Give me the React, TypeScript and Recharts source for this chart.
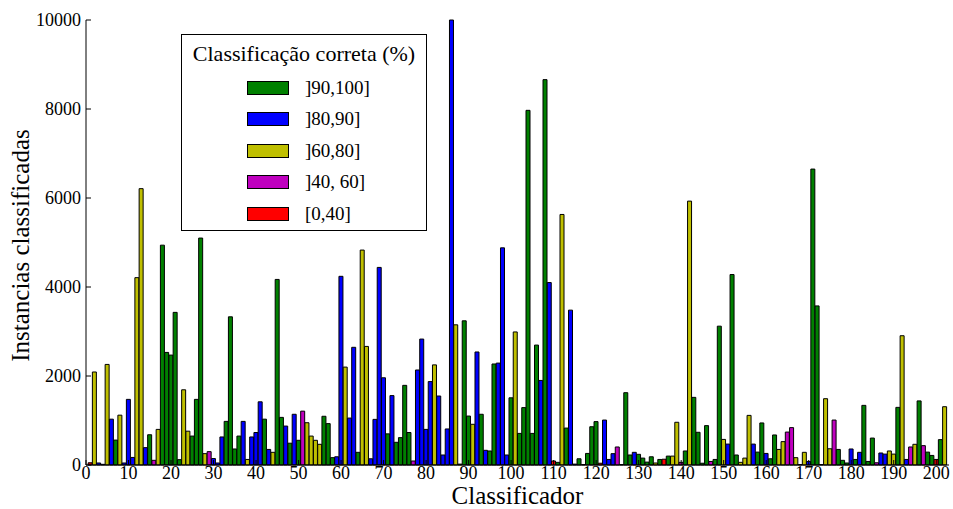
import { BarChart, Bar, XAxis, YAxis, Cell, Legend } from 'recharts';

// instances classified per classifier (classifier 1..202)
const INSTANCE_COUNTS = [
  50, 2090, 45, 15, 2260, 1030, 560, 1120, 45, 1475,
  170, 4210, 6210, 390, 680, 105, 800, 4940, 2530, 2470,
  3430, 120, 1690, 760, 650, 1475, 5100, 255, 300, 145,
  45, 630, 980, 3330, 360, 650, 980, 125, 630, 730,
  1420, 1030, 350, 285, 4170, 1070, 875, 490, 1140, 555,
  1210, 950, 650, 555, 465, 1095, 930, 165, 185, 4240,
  2200, 1055, 2645, 285, 4830, 2665, 140, 1025, 4440, 1960,
  700, 1560, 510, 615, 1790, 730, 90, 2135, 2830, 800,
  1875, 2250, 1550, 225, 810, 10000, 3150, 20, 3240, 1100,
  915, 2540, 1140, 330, 315, 2270, 2290, 4880, 225, 1510,
  2990, 710, 1290, 7970, 710, 2695, 1900, 8660, 4100, 90,
  60, 5630, 830, 3480, 20, 140, 10, 260, 860, 975,
  40, 1010, 125, 255, 405, 10, 1625, 225, 285, 240,
  155, 65, 185, 45, 125, 130, 200, 200, 960, 60,
  315, 5930, 1520, 735, 40, 885, 80, 125, 3120, 575,
  470, 4280, 225, 60, 155, 1115, 470, 290, 945, 260,
  140, 675, 350, 525, 740, 840, 165, 10, 285, 80,
  6650, 3575, 10, 1490, 365, 1010, 350, 105, 45, 360,
  125, 285, 1340, 80, 605, 50, 270, 245, 315, 245,
  1295, 2905, 125, 405, 465, 1440, 435, 290, 215, 125,
  570, 1310,
];

// accuracy band of each classifier: g ]90,100]  b ]80,90]  y ]60,80]  m ]40,60]  r [0,40]
const ACCURACY_BANDS = (
  'rybbybgybb' + 'byybgmyggg' + 'ggyygggymb' + 'bbggggbybb' + 'bgbyggbgbg' +
  'myyyygggbb' + 'ybbgyybbbb' + 'gbggggmbbb' + 'bybbbbyggg' + 'ybgbggbbbg' +
  'ygggggbgbr' + 'gygbbggggg' + 'rbbbmgggbg' + 'gggygrgyym' + 'gyggggmggy' +
  'bggyyybggb' + 'ggyymmyyyb' + 'gggyymgggb' + 'gbgggmbbyy' + 'gybmygmggr' +
  'gy'
).split('');

const BAND_KEYS = ['g', 'b', 'y', 'm', 'r'];
const BAND_LABELS = [']90,100]', ']80,90]', ']60,80]', ']40, 60]', '[0,40]'];
const BAND_COLORS: Record<string, string> = {
  g: '#008000',
  b: '#0000ff',
  y: '#bfbf00',
  m: '#bf00bf',
  r: '#ff0000',
};

const X_TICKS = [0, 10, 20, 30, 40, 50, 60, 70, 80, 90, 100, 110, 120, 130, 140, 150, 160, 170, 180, 190, 200];
const Y_TICKS = [0, 2000, 4000, 6000, 8000, 10000];

const FONT = '"Liberation Serif", "DejaVu Serif", serif';

const data = INSTANCE_COUNTS.map((count, i) => ({
  classifier: i + 1,
  count,
  band: ACCURACY_BANDS[i],
}));

function LegendBox() {
  return (
    <div
      style={{
        width: 246,
        height: 197,
        border: '1px solid #000',
        background: '#fff',
        fontFamily: FONT,
        color: '#000',
        boxSizing: 'border-box',
      }}
    >
      <div style={{ fontSize: 22, textAlign: 'center', marginTop: 6, height: 31 }}>
        Classificação correta (%)
      </div>
      {BAND_KEYS.map((key, i) => (
        <div key={key} style={{ display: 'flex', alignItems: 'center', height: 31.5 }}>
          <div
            style={{
              marginLeft: 65,
              width: 42,
              height: 14,
              background: BAND_COLORS[key],
              border: '1px solid #000',
              boxSizing: 'border-box',
            }}
          />
          <span style={{ marginLeft: 16, fontSize: 19 }}>{BAND_LABELS[i]}</span>
        </div>
      ))}
    </div>
  );
}

export default function App() {
  return (
    <div style={{ width: 953, height: 509, background: '#fff' }}>
      <style>{'body { margin: 0; }'}</style>
      <BarChart
        width={953}
        height={509}
        data={data}
        margin={{ top: 20, right: 4, bottom: 0, left: 0 }}
        barCategoryGap={0}
        barGap={0}
      >
        <XAxis
          dataKey="classifier"
          type="number"
          domain={[0, 203]}
          ticks={X_TICKS}
          interval={0}
          height={44}
          stroke="#000"
          tickSize={-5}
          tickMargin={6}
          tick={{ fill: '#000', fontSize: 18, fontFamily: FONT }}
          label={{
            content: ({ viewBox }: any) => (
              <text
                x={viewBox.x + viewBox.width / 2}
                y={viewBox.y + 39}
                textAnchor="middle"
                fontSize={25}
                fontFamily={FONT}
                fill="#000"
              >
                Classificador
              </text>
            ),
          }}
        />
        <XAxis
          xAxisId="top"
          orientation="top"
          dataKey="classifier"
          type="number"
          domain={[0, 203]}
          ticks={X_TICKS}
          interval={0}
          height={0}
          stroke="#000"
          tickSize={-5}
          tickFormatter={() => ''}
        />
        <YAxis
          type="number"
          domain={[0, 10000]}
          ticks={Y_TICKS}
          interval={0}
          width={86}
          stroke="#000"
          tickSize={-5}
          tickMargin={10}
          tick={{ fill: '#000', fontSize: 18, fontFamily: FONT }}
          label={{
            content: ({ viewBox }: any) => {
              const cx = 20;
              const cy = viewBox.y + viewBox.height / 2 + 3;
              return (
                <text
                  x={cx}
                  y={cy}
                  transform={`rotate(-90 ${cx} ${cy})`}
                  textAnchor="middle"
                  dominantBaseline="central"
                  fontSize={25}
                  fontFamily={FONT}
                  fill="#000"
                >
                  Instancias classificadas
                </text>
              );
            },
          }}
        />
        <YAxis
          yAxisId="right"
          orientation="right"
          type="number"
          domain={[0, 10000]}
          ticks={Y_TICKS}
          interval={0}
          width={0}
          stroke="#000"
          tickSize={-5}
          tickFormatter={() => ''}
        />
        <Legend
          layout="vertical"
          verticalAlign="middle"
          align="center"
          wrapperStyle={{ left: 181, top: 34, width: 246 }}
          content={() => <LegendBox />}
        />
        <Bar dataKey="count" stroke="#000" strokeWidth={1} isAnimationActive={false}>
          {data.map((d, i) => (
            <Cell key={`bar-${i}`} fill={BAND_COLORS[d.band]} />
          ))}
        </Bar>
      </BarChart>
    </div>
  );
}
